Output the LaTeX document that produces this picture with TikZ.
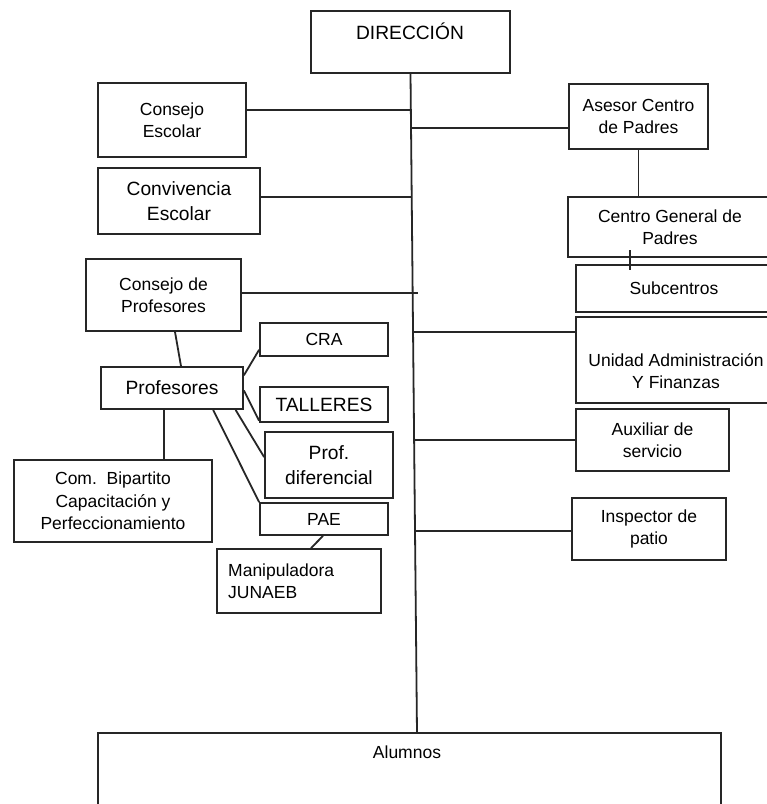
\documentclass[tikz,border=0pt]{standalone}
\usepackage{fontspec}
\setmainfont{Liberation Sans}
\begin{document}
\begin{tikzpicture}[x=1pt, y=-1pt,
    box/.style = {draw=black!85, line width=1.8pt, rectangle, align=center, inner sep=0pt,
                  font=\fontsize{17.5}{22.5}\selectfont},
    big/.style = {font=\fontsize{19.2}{25}\selectfont},
    txt/.style = {inner sep=0pt, align=center, font=\fontsize{17.5}{22.5}\selectfont},
    line/.style = {draw=black!85, line width=1.8pt}]
      \path[use as bounding box, clip] (0,0) rectangle (767,804);
      \fill[white] (0,0) rectangle (767,804);

      \node [box, minimum width=199pt, minimum height=62pt]  (dir)  at (410.5,42) {};
      \node [txt, big, anchor=base]                          (dirt) at (410,39) {DIRECCIÓN};
      \node [box, minimum width=148pt, minimum height=74pt]  (cesc) at (172,120) {Consejo\\Escolar};
      \node [box, big, minimum width=162pt, minimum height=66pt] (conv) at (179,201) {Convivencia\\Escolar};
      \node [box, minimum width=155pt, minimum height=72pt]  (cpr)  at (163.5,295) {Consejo de\\Profesores};
      \node [box, big, minimum width=142pt, minimum height=42pt] (prof) at (172,388) {Profesores};
      \node [box, minimum width=128pt, minimum height=33pt]  (cra)  at (324,339.5) {CRA};
      \node [box, big, minimum width=128pt, minimum height=35pt] (tal) at (324,404.5) {TALLERES};
      \node [box, big, minimum width=128pt, minimum height=66pt] (pdif) at (329,465) {Prof.\\diferencial};
      \node [box, minimum width=128pt, minimum height=32pt]  (pae)  at (324,519) {PAE};
      \node [box, minimum width=198pt, minimum height=82pt]  (com)  at (113,501) {Com.\ \ Bipartito\\Capacitación y\\Perfeccionamiento};
      \node [box, minimum width=164pt, minimum height=64pt]  (man)  at (299,581) {};
      \node [txt, align=left, anchor=west]                   (mant) at (228,581) {Manipuladora\\JUNAEB};

      \node [box, minimum width=139pt, minimum height=65pt]  (ases) at (638.5,116.5) {Asesor Centro\\de Padres};
      \node [box, minimum width=204pt, minimum height=60pt]  (cgp)  at (670,227) {Centro General de\\Padres};
      \node [box, minimum width=196pt, minimum height=47pt]  (sub)  at (674,288.5) {Subcentros};
      \node [box, minimum width=204pt, minimum height=86pt]  (uaf)  at (678,360) {};
      \node [txt]                                            (uaft) at (676,371) {Unidad Administración\\Y Finanzas};
      \node [box, minimum width=153pt, minimum height=62pt]  (aux)  at (652.5,440) {Auxiliar de\\servicio};
      \node [box, minimum width=154pt, minimum height=62pt]  (insp) at (649,529) {Inspector de\\patio};

      \node [box, minimum width=623pt, minimum height=88pt]  (alum) at (409.5,777) {};
      \node [txt, anchor=base]                               (alumt) at (407,758) {Alumnos};

      \coordinate (tbot) at (417,733);
      \coordinate (jce) at (411,110);
      \coordinate (jas) at (411,128);
      \coordinate (jcv) at (411.7,197);
      \coordinate (jcp) at (418,293);
      \coordinate (jua) at (413.1,332);
      \coordinate (jax) at (414.1,440);
      \coordinate (jin) at (415,531);
      \coordinate (cs1) at (630,250);
      \coordinate (cs2) at (630,270);

      \path[line] (dir.south) edge (tbot)
                (cesc.east |- jce) edge (jce)
                (conv.east |- jcv) edge (jcv)
                (cpr.east |- jcp) edge (jcp)
                (jas) edge (ases.west |- jas)
                (jua) edge (uaf.west |- jua)
                (jax) edge (aux.west |- jax)
                (jin) edge (insp.west |- jin)
                (ases.south) edge (ases.south |- cgp.north)
                (cs1) edge (cs2)
                (cpr.south -| 175,0) edge (prof.north -| 181,0)
                (prof.10) edge (cra.189)
                (prof.-2) edge (tal.194)
                (prof.-19) edge (pdif.173)
                (prof.-28) edge (pae.north west)
                (prof.south -| 164,0) edge (com.north -| 164,0)
                (pae.south -| 323,0) edge (man.north -| 311,0)
      ;
\end{tikzpicture}
\end{document}
